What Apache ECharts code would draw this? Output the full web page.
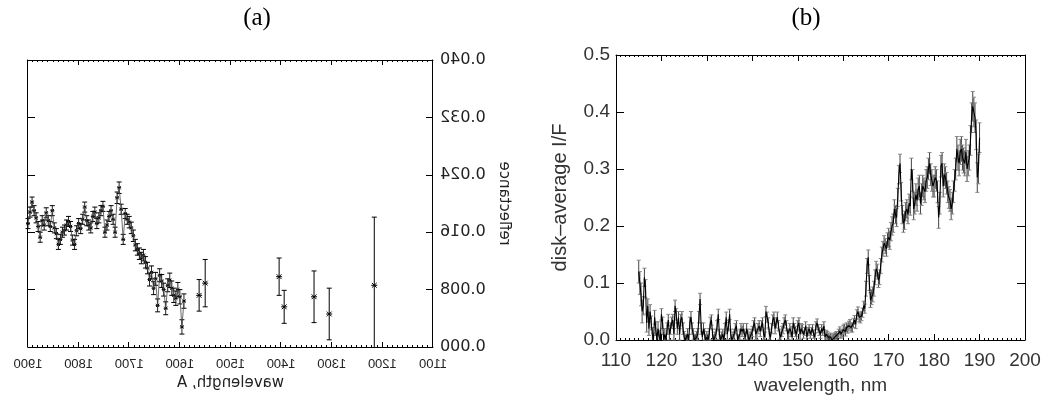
<!DOCTYPE html>
<html>
<head>
<meta charset="utf-8">
<script src="https://cdn.jsdelivr.net/npm/echarts/dist/echarts.min.js"></script>
<style>
  html, body { margin: 0; padding: 0; background: #fff; }
  #chartA { position: absolute; left: 0; top: 0; width: 522px; height: 400px; transform: scaleX(-1); }
  #chartB { position: absolute; left: 0; top: 0; width: 1044px; height: 400px; }
</style>
</head>
<body>
<div id="chartA"></div>
<div id="chartB"></div>
<script>
// ---------------- Panel (a) data : reflectance vs wavelength (Angstrom) ----------------
const aWave = [
  1900, 1896, 1892, 1888, 1884, 1880, 1876, 1872, 1868, 1864,
  1860, 1856, 1852, 1848, 1844, 1840, 1836, 1832, 1828, 1824,
  1820, 1816, 1812, 1808, 1804, 1800, 1796, 1792, 1788, 1784,
  1780, 1776, 1772, 1768, 1764, 1760, 1756, 1752, 1748, 1744,
  1740, 1736, 1732, 1728, 1724, 1720, 1716, 1712, 1708, 1704,
  1700, 1696, 1692, 1688, 1684, 1680, 1676, 1672, 1668, 1664,
  1660, 1656, 1652, 1648, 1644, 1640, 1636, 1632, 1628, 1624,
  1620, 1616, 1612, 1608, 1604, 1600, 1596, 1592
];
const aRefl = [
  0.0172, 0.0188, 0.0202, 0.0190, 0.0180, 0.0168, 0.0153, 0.0176, 0.0170, 0.0187,
  0.0176, 0.0168, 0.0190, 0.0166, 0.0158, 0.0143, 0.0150, 0.0160, 0.0163, 0.0170,
  0.0175, 0.0168, 0.0149, 0.0143, 0.0162, 0.0172, 0.0165, 0.0178, 0.0195, 0.0176,
  0.0170, 0.0166, 0.0182, 0.0188, 0.0172, 0.0180, 0.0190, 0.0196, 0.0160, 0.0170,
  0.0182, 0.0190, 0.0178, 0.0160, 0.0208, 0.0222, 0.0192, 0.0150, 0.0186, 0.0178,
  0.0174, 0.0166, 0.0155, 0.0142, 0.0136, 0.0130, 0.0124, 0.0128, 0.0118, 0.0110,
  0.0094, 0.0104, 0.0082, 0.0095, 0.0058, 0.0100, 0.0092, 0.0080, 0.0054, 0.0086,
  0.0093, 0.0082, 0.0072, 0.0068, 0.0080, 0.0070, 0.0028, 0.0064
];
const aErr = [
  0.0007, 0.0007, 0.0007, 0.0007, 0.0007, 0.0007, 0.0007, 0.0007, 0.0007, 0.0007,
  0.0007, 0.0007, 0.0007, 0.0007, 0.0007, 0.0007, 0.0007, 0.0007, 0.0007, 0.0007,
  0.0007, 0.0007, 0.0007, 0.0007, 0.0007, 0.0007, 0.0007, 0.0007, 0.0007, 0.0007,
  0.0007, 0.0007, 0.0007, 0.0007, 0.0007, 0.0007, 0.0007, 0.0007, 0.0007, 0.0007,
  0.0007, 0.0007, 0.0007, 0.0007, 0.0008, 0.0008, 0.0007, 0.0007, 0.0007, 0.0007,
  0.0008, 0.0008, 0.0008, 0.0008, 0.0008, 0.0008, 0.0008, 0.0008, 0.0008, 0.0008,
  0.0009, 0.0009, 0.0009, 0.0009, 0.0009, 0.0009, 0.0009, 0.0009, 0.0009, 0.0009,
  0.0010, 0.0010, 0.0010, 0.0010, 0.0010, 0.0010, 0.0010, 0.0010
];
// isolated broadband points
const aPtWave = [1562, 1550, 1404, 1394, 1335, 1305, 1216];
const aPtVal  = [0.0072, 0.0089, 0.0098, 0.0056, 0.0070, 0.0046, 0.0086];
const aPtErr  = [0.0022, 0.0033, 0.0026, 0.0023, 0.0036, 0.0036, 0.0095];

const aXTicks = { min: 1100, max: 1900, step: 100 };
const aYTicks = { min: 0, max: 0.04, step: 0.008 };

// ---------------- Panel (b) data : disk-average I/F vs wavelength (nm) ----------------
const bWave = [
  115, 115.25, 115.5, 115.75,  116, 116.25, 116.5, 116.75,  117, 117.25, 117.5, 117.75,
  118, 118.25, 118.5, 118.75,  119, 119.25, 119.5, 119.75,  120, 120.25, 120.5, 120.75,
  121, 121.25, 121.5, 121.75,  122, 122.25, 122.5, 122.75,  123, 123.25, 123.5, 123.75,
  124, 124.25, 124.5, 124.75,  125, 125.25, 125.5, 125.75,  126, 126.25, 126.5, 126.75,
  127, 127.25, 127.5, 127.75,  128, 128.25, 128.5, 128.75,  129, 129.25, 129.5, 129.75,
  130, 130.25, 130.5, 130.75,  131, 131.25, 131.5, 131.75,  132, 132.25, 132.5, 132.75,
  133, 133.25, 133.5, 133.75,  134, 134.25, 134.5, 134.75,  135, 135.25, 135.5, 135.75,
  136, 136.25, 136.5, 136.75,  137, 137.25, 137.5, 137.75,  138, 138.25, 138.5, 138.75,
  139, 139.25, 139.5, 139.75,  140, 140.25, 140.5, 140.75,  141, 141.25, 141.5, 141.75,
  142, 142.25, 142.5, 142.75,  143, 143.25, 143.5, 143.75,  144, 144.25, 144.5, 144.75,
  145, 145.25, 145.5, 145.75,  146, 146.25, 146.5, 146.75,  147, 147.25, 147.5, 147.75,
  148, 148.25, 148.5, 148.75,  149, 149.25, 149.5, 149.75,  150, 150.25, 150.5, 150.75,
  151, 151.25, 151.5, 151.75,  152, 152.25, 152.5, 152.75,  153, 153.25, 153.5, 153.75,
  154, 154.25, 154.5, 154.75,  155, 155.25, 155.5, 155.75,  156, 156.25, 156.5, 156.75,
  157, 157.25, 157.5, 157.75,  158, 158.25, 158.5, 158.75,  159, 159.25, 159.5, 159.75,
  160, 160.25, 160.5, 160.75,  161, 161.25, 161.5, 161.75,  162, 162.25, 162.5, 162.75,
  163, 163.25, 163.5, 163.75,  164, 164.25, 164.5, 164.75,  165, 165.25, 165.5, 165.75,
  166, 166.25, 166.5, 166.75,  167, 167.25, 167.5, 167.75,  168, 168.25, 168.5, 168.75,
  169, 169.25, 169.5, 169.75,  170, 170.25, 170.5, 170.75,  171, 171.25, 171.5, 171.75,
  172, 172.25, 172.5, 172.75,  173, 173.25, 173.5, 173.75,  174, 174.25, 174.5, 174.75,
  175, 175.25, 175.5, 175.75,  176, 176.25, 176.5, 176.75,  177, 177.25, 177.5, 177.75,
  178, 178.25, 178.5, 178.75,  179, 179.25, 179.5, 179.75,  180, 180.25, 180.5, 180.75,
  181, 181.25, 181.5, 181.75,  182, 182.25, 182.5, 182.75,  183, 183.25, 183.5, 183.75,
  184, 184.25, 184.5, 184.75,  185, 185.25, 185.5, 185.75,  186, 186.25, 186.5, 186.75,
  187, 187.25, 187.5, 187.75,  188, 188.25, 188.5, 188.75,  189, 189.25, 189.5, 189.75,
  190
];
const bIF = [
  0.120, 0.100, 0.080, 0.050,  0.060, 0.110, 0.090, 0.030,  0.060, 0.020, 0.050, 0.030,
  0.010, 0.000, 0.040, 0.020,  0.000, 0.020, 0.005, 0.000,  0.045, 0.030, 0.000, 0.010,
  0.000, 0.020, 0.035, 0.010,  0.020, 0.030, 0.035, 0.010,  0.060, 0.045, 0.020, 0.040,
  0.010, 0.035, 0.040, 0.020,  0.005, 0.000, 0.000, 0.010,  0.000, 0.030, 0.040, 0.020,
  0.010, 0.000, 0.000, 0.005,  0.010, 0.040, 0.072, 0.020,  0.005, 0.020, 0.010, 0.000,
  0.005, 0.000, 0.010, 0.030,  0.035, 0.010, 0.000, 0.005,  0.010, 0.025, 0.045, 0.010,
  0.000, 0.005, 0.010, 0.000,  0.020, 0.040, 0.010, 0.025,  0.045, 0.010, 0.000, 0.005,
  0.010, 0.020, 0.025, 0.000,  0.000, 0.010, 0.020, 0.015,  0.020, 0.010, 0.005, 0.020,
  0.010, 0.000, 0.005, 0.010,  0.015, 0.025, 0.030, 0.010,  0.010, 0.020, 0.025, 0.015,
  0.025, 0.030, 0.010, 0.005,  0.050, 0.040, 0.030, 0.010,  0.005, 0.020, 0.035, 0.040,
  0.020, 0.030, 0.040, 0.025,  0.010, 0.005, 0.015, 0.020,  0.030, 0.035, 0.025, 0.010,
  0.010, 0.020, 0.015, 0.005,  0.030, 0.020, 0.015, 0.010,  0.025, 0.030, 0.010, 0.020,
  0.020, 0.010, 0.015, 0.025,  0.005, 0.015, 0.020, 0.010,  0.015, 0.020, 0.010, 0.005,
  0.025, 0.030, 0.020, 0.015,  0.010, 0.020, 0.015, 0.025,  0.005, 0.010, 0.008, 0.005,
  0.002, 0.005, 0.000, 0.003,  0.004, 0.006, 0.008, 0.005,  0.012, 0.016, 0.010, 0.012,
  0.018, 0.020, 0.015, 0.022,  0.020, 0.025, 0.028, 0.022,  0.022, 0.030, 0.035, 0.028,
  0.045, 0.050, 0.040, 0.038,  0.042, 0.048, 0.060, 0.055,  0.090, 0.130, 0.145, 0.100,
  0.070, 0.075, 0.080, 0.090,  0.110, 0.125, 0.120, 0.105,  0.110, 0.130, 0.150, 0.160,
  0.170, 0.165, 0.160, 0.175,  0.180, 0.175, 0.190, 0.200,  0.205, 0.230, 0.220, 0.215,
  0.250, 0.290, 0.310, 0.260,  0.220, 0.205, 0.210, 0.225,  0.230, 0.220, 0.240, 0.235,
  0.300, 0.280, 0.230, 0.240,  0.255, 0.245, 0.265, 0.270,  0.240, 0.255, 0.270, 0.265,
  0.260, 0.280, 0.285, 0.300,  0.310, 0.290, 0.280, 0.270,  0.270, 0.285, 0.280, 0.260,
  0.215, 0.240, 0.305, 0.310,  0.270, 0.290, 0.285, 0.275,  0.260, 0.250, 0.245, 0.230,
  0.240, 0.260, 0.280, 0.300,  0.335, 0.320, 0.310, 0.330,  0.335, 0.320, 0.315, 0.310,
  0.330, 0.300, 0.310, 0.320,  0.350, 0.390, 0.410, 0.400,  0.390, 0.360, 0.285, 0.300,
  0.355
];
const bErr = [
  0.020, 0.020, 0.020, 0.020,  0.016, 0.016, 0.016, 0.016,  0.012, 0.012, 0.012, 0.012,
  0.012, 0.012, 0.012, 0.012,  0.012, 0.012, 0.012, 0.012,  0.010, 0.010, 0.010, 0.010,
  0.010, 0.010, 0.010, 0.010,  0.010, 0.010, 0.010, 0.010,  0.010, 0.010, 0.010, 0.010,
  0.010, 0.010, 0.010, 0.010,  0.010, 0.010, 0.010, 0.010,  0.010, 0.010, 0.010, 0.010,
  0.010, 0.010, 0.010, 0.010,  0.010, 0.010, 0.010, 0.010,  0.010, 0.010, 0.010, 0.010,
  0.010, 0.010, 0.010, 0.010,  0.009, 0.009, 0.009, 0.009,  0.009, 0.009, 0.009, 0.009,
  0.009, 0.009, 0.009, 0.009,  0.009, 0.009, 0.009, 0.009,  0.009, 0.009, 0.009, 0.009,
  0.009, 0.009, 0.009, 0.009,  0.009, 0.009, 0.009, 0.009,  0.009, 0.009, 0.009, 0.009,
  0.009, 0.009, 0.009, 0.009,  0.009, 0.009, 0.009, 0.009,  0.009, 0.009, 0.009, 0.009,
  0.009, 0.009, 0.009, 0.009,  0.009, 0.009, 0.009, 0.009,  0.009, 0.009, 0.009, 0.009,
  0.009, 0.009, 0.009, 0.009,  0.009, 0.009, 0.009, 0.009,  0.009, 0.009, 0.009, 0.009,
  0.009, 0.009, 0.009, 0.009,  0.009, 0.009, 0.009, 0.009,  0.009, 0.009, 0.009, 0.009,
  0.007, 0.007, 0.007, 0.007,  0.007, 0.007, 0.007, 0.007,  0.007, 0.007, 0.007, 0.007,
  0.007, 0.007, 0.007, 0.007,  0.007, 0.007, 0.007, 0.007,  0.007, 0.007, 0.007, 0.007,
  0.007, 0.007, 0.007, 0.007,  0.007, 0.007, 0.007, 0.007,  0.007, 0.007, 0.007, 0.007,
  0.008, 0.008, 0.008, 0.008,  0.008, 0.008, 0.008, 0.008,  0.008, 0.008, 0.008, 0.008,
  0.008, 0.008, 0.008, 0.008,  0.008, 0.008, 0.008, 0.008,  0.013, 0.013, 0.013, 0.013,
  0.013, 0.013, 0.013, 0.013,  0.013, 0.013, 0.013, 0.013,  0.013, 0.013, 0.013, 0.013,
  0.013, 0.013, 0.013, 0.013,  0.016, 0.016, 0.016, 0.016,  0.016, 0.016, 0.016, 0.016,
  0.016, 0.016, 0.016, 0.016,  0.016, 0.016, 0.016, 0.016,  0.016, 0.016, 0.016, 0.016,
  0.019, 0.019, 0.019, 0.019,  0.019, 0.019, 0.019, 0.019,  0.019, 0.019, 0.019, 0.019,
  0.019, 0.019, 0.019, 0.019,  0.019, 0.019, 0.019, 0.019,  0.019, 0.019, 0.019, 0.019,
  0.019, 0.019, 0.019, 0.019,  0.019, 0.019, 0.019, 0.019,  0.019, 0.019, 0.019, 0.019,
  0.019, 0.019, 0.019, 0.019,  0.022, 0.022, 0.022, 0.022,  0.022, 0.022, 0.022, 0.022,
  0.022, 0.022, 0.022, 0.022,  0.026, 0.026, 0.026, 0.026,  0.026, 0.026, 0.026, 0.026,
  0.026
];
const bXTicks = { min: 110, max: 200, step: 10 };
const bYTicks = { min: 0, max: 0.5, step: 0.1 };

const titles = ['(a)', '(b)'];

// ---------------- helpers ----------------
function zip3(x, y, e) { return x.map((v, i) => [v, y[i], e[i]]); }
function zip2(x, y) { return x.map((v, i) => [v, y[i]]); }

function errRender(capHalf, starR, barColor, capColor, yFloor) {
  return function (params, api) {
    const x = api.value(0), y = api.value(1), e = api.value(2);
    const c = api.coord([x, y]);
    const top = api.coord([x, y + e]);
    const clamped = (y - e) < yFloor;
    const bot = api.coord([x, clamped ? yFloor : y - e]);
    const kids = [
      { type: 'line', shape: { x1: c[0], y1: top[1], x2: c[0], y2: bot[1] }, style: { stroke: barColor, lineWidth: 1 } },
      { type: 'line', shape: { x1: c[0] - capHalf, y1: top[1], x2: c[0] + capHalf, y2: top[1] }, style: { stroke: capColor, lineWidth: 1 } }
    ];
    if (!clamped) {
      kids.push({ type: 'line', shape: { x1: c[0] - capHalf, y1: bot[1], x2: c[0] + capHalf, y2: bot[1] }, style: { stroke: capColor, lineWidth: 1 } });
    }
    if (starR > 0) {
      const d = starR * 0.8;
      kids.push({ type: 'line', shape: { x1: c[0] - starR, y1: c[1], x2: c[0] + starR, y2: c[1] }, style: { stroke: '#000', lineWidth: 1 } });
      kids.push({ type: 'line', shape: { x1: c[0] - d, y1: c[1] - d, x2: c[0] + d, y2: c[1] + d }, style: { stroke: '#000', lineWidth: 1 } });
      kids.push({ type: 'line', shape: { x1: c[0] - d, y1: c[1] + d, x2: c[0] + d, y2: c[1] - d }, style: { stroke: '#000', lineWidth: 1 } });
    }
    return { type: 'group', children: kids };
  };
}

function frameAxis(base, extra) { return Object.assign({}, base, extra); }

// ---------------- Chart A (drawn normally, then mirrored by CSS like the reference) ----------------
const chartA = echarts.init(document.getElementById('chartA'), null, { renderer: 'canvas' });
const axLine = { show: true, onZero: false, lineStyle: { color: '#000', width: 1 } };
const aXBase = {
  type: 'value', min: aXTicks.min, max: aXTicks.max, interval: aXTicks.step,
  axisLine: axLine, splitLine: { show: false },
  axisTick: { show: true, inside: true, length: 5, lineStyle: { color: '#000' } },
  minorTick: { show: true, splitNumber: 10, length: 2, lineStyle: { color: '#000' } }
};
const aYBase = {
  type: 'value', min: aYTicks.min, max: aYTicks.max, interval: aYTicks.step,
  axisLine: axLine, splitLine: { show: false },
  axisTick: { show: true, inside: true, length: 7, lineStyle: { color: '#000' } }
};
chartA.setOption({
  animation: false,
  backgroundColor: 'transparent',
  grid: { left: 89, right: 28, top: 60, bottom: 53 },
  xAxis: [
    frameAxis(aXBase, {
      position: 'bottom',
      axisLabel: { show: true, showMinLabel: true, showMaxLabel: true, margin: 11, fontFamily: 'Liberation Sans', fontSize: 13, color: '#222',
        formatter: v => String(v) },
      name: 'wavelength, A', nameLocation: 'middle', nameGap: 27,
      nameTextStyle: { fontFamily: 'DejaVu Sans', fontSize: 15, color: '#222' }
    }),
    frameAxis(aXBase, { position: 'top', axisLabel: { show: false } })
  ],
  yAxis: [
    frameAxis(aYBase, {
      position: 'left',
      axisLabel: { show: true, showMinLabel: true, showMaxLabel: true, margin: 7, fontFamily: 'DejaVu Sans', fontSize: 16, color: '#222',
        formatter: v => v.toFixed(3) },
      name: 'reflectance', nameLocation: 'middle', nameGap: 62,
      nameTextStyle: { fontFamily: 'DejaVu Sans', fontSize: 15, color: '#222' }
    }),
    frameAxis(aYBase, { position: 'right', axisLabel: { show: false } })
  ],
  series: [
    {
      type: 'custom', xAxisIndex: 0, yAxisIndex: 0,
      renderItem: errRender(2.5, 2, '#222', '#000', aYTicks.min),
      data: zip3(aWave, aRefl, aErr), z: 2
    },
    {
      type: 'line', xAxisIndex: 0, yAxisIndex: 0, showSymbol: false,
      lineStyle: { color: '#444', width: 0.8 },
      data: zip2(aWave, aRefl), z: 3
    },
    {
      type: 'custom', xAxisIndex: 0, yAxisIndex: 0,
      renderItem: errRender(2.5, 3, '#000', '#000', aYTicks.min),
      data: zip3(aPtWave, aPtVal, aPtErr), z: 4
    }
  ]
});

// ---------------- Chart B (panel b + both panel titles) ----------------
const chartB = echarts.init(document.getElementById('chartB'), null, { renderer: 'canvas' });
const bXBase = {
  type: 'value', min: bXTicks.min, max: bXTicks.max, interval: bXTicks.step,
  axisLine: axLine, splitLine: { show: false },
  axisTick: { show: true, inside: true, length: 6, lineStyle: { color: '#000' } },
  minorTick: { show: true, splitNumber: 10, length: 2, lineStyle: { color: '#000' } }
};
const bYBase = {
  type: 'value', min: bYTicks.min, max: bYTicks.max, interval: bYTicks.step,
  axisLine: axLine, splitLine: { show: false },
  axisTick: { show: true, inside: true, length: 8, lineStyle: { color: '#000' } }
};
chartB.setOption({
  animation: false,
  backgroundColor: 'transparent',
  graphic: [
    { type: 'text', x: 257, y: 18, style: { text: titles[0], align: 'center', verticalAlign: 'middle', fontFamily: 'Liberation Serif', fontSize: 25, fill: '#000' } },
    { type: 'text', x: 806, y: 18, style: { text: titles[1], align: 'center', verticalAlign: 'middle', fontFamily: 'Liberation Serif', fontSize: 25, fill: '#000' } }
  ],
  grid: { left: 616, right: 19, top: 55, bottom: 56 },
  xAxis: [
    frameAxis(bXBase, {
      position: 'bottom',
      axisLabel: { show: true, showMinLabel: true, showMaxLabel: true, margin: 11, fontFamily: 'Liberation Sans', fontSize: 19, color: '#333' },
      name: 'wavelength, nm', nameLocation: 'middle', nameGap: 36,
      nameTextStyle: { fontFamily: 'Liberation Sans', fontSize: 19, color: '#333' }
    }),
    frameAxis(bXBase, { position: 'top', axisLabel: { show: false } })
  ],
  yAxis: [
    frameAxis(bYBase, {
      position: 'left',
      axisLabel: { show: true, showMinLabel: true, showMaxLabel: true, margin: 6, fontFamily: 'Liberation Sans', fontSize: 19, color: '#333',
        formatter: v => v.toFixed(1) },
      name: 'disk\u2013average I/F', nameLocation: 'middle', nameGap: 46,
      nameTextStyle: { fontFamily: 'Liberation Sans', fontSize: 20, color: '#333' }
    }),
    frameAxis(bYBase, { position: 'right', axisLabel: { show: false } })
  ],
  series: [
    {
      type: 'custom', xAxisIndex: 0, yAxisIndex: 0,
      renderItem: errRender(2, 0, '#444', '#888', bYTicks.min),
      data: zip3(bWave, bIF, bErr), z: 2
    },
    {
      type: 'line', xAxisIndex: 0, yAxisIndex: 0, showSymbol: false,
      lineStyle: { color: '#000', width: 1.1 },
      data: zip2(bWave, bIF), z: 3
    }
  ]
});
</script>
</body>
</html>
